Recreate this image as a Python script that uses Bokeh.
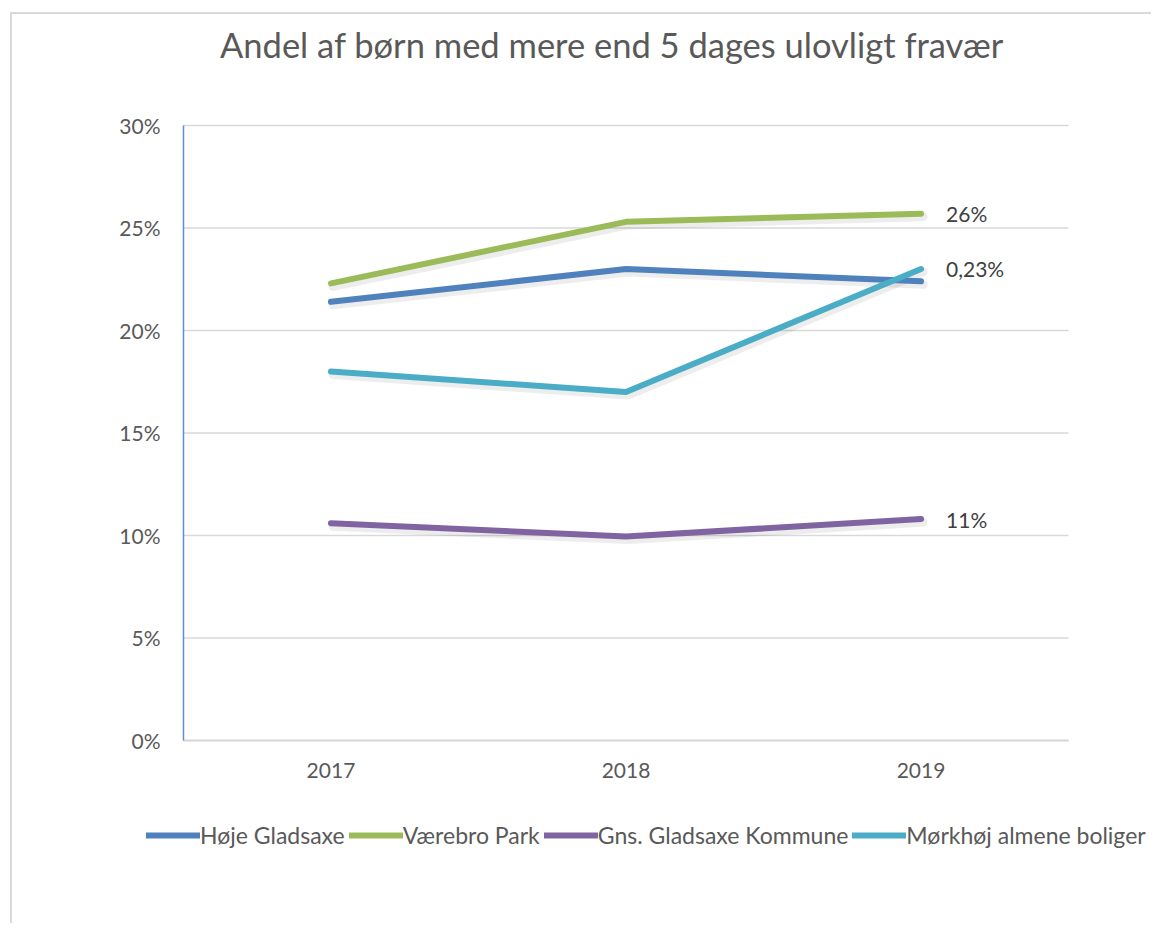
from bokeh.plotting import figure
from bokeh.models import (ColumnDataSource, FactorRange, Range1d, FixedTicker,
                          NumeralTickFormatter, Label, Legend, LegendItem)
from bokeh.transform import dodge
from bokeh.embed import file_html
from bokeh.resources import INLINE
from bokeh.core.properties import value

# ---------------- data ----------------
years = ["2017", "2018", "2019"]
hoeje_gladsaxe = [0.214, 0.230, 0.224]
vaerebro_park = [0.223, 0.253, 0.257]
gns_gladsaxe = [0.106, 0.0995, 0.108]
moerkhoej = [0.180, 0.170, 0.230]
series_names = ["Høje Gladsaxe", "Værebro Park", "Gns. Gladsaxe Kommune", "Mørkhøj almene boliger"]
series_values = [hoeje_gladsaxe, vaerebro_park, gns_gladsaxe, moerkhoej]
series_colors = ["#4F81BD", "#9BBB59", "#8064A2", "#4BACC6"]
y_ticks = [0, 0.05, 0.10, 0.15, 0.20, 0.25, 0.30]
# data labels at 2019 (as shown in the chart)
label_series = [vaerebro_park, moerkhoej, gns_gladsaxe]
label_texts = ["26%", "0,23%", "11%"]
title_text = "Andel af børn med mere end 5 dages ulovligt fravær"

FONT = "Lato"
TXT = "#595959"
GRID = "#d9d9d9"

# The frame covers the whole card so the title and legend (drawn inside it)
# are not clipped; the visible plot area is 0..30% and 2017..2019.
x_range = FactorRange(*years, range_padding=0.288, range_padding_units="absolute")
y_range = Range1d(-0.065854, 0.354146)

p = figure(x_range=x_range, y_range=y_range, width=1141, height=911,
           output_backend="svg", toolbar_location=None,
           min_border_left=86, min_border_top=0, min_border_right=0,
           min_border_bottom=50)
p.margin = (12, 0, 0, 10)
p.styles = {"border-top": "2px solid #d9d9d9", "border-left": "2px solid #d9d9d9"}
p.outline_line_color = None
p.background_fill_color = "white"
p.border_fill_color = "white"

# y axis placed at the left edge of the category area
p.yaxis.fixed_location = 0
p.yaxis.bounds = (y_ticks[0], y_ticks[-1])
p.yaxis.ticker = FixedTicker(ticks=y_ticks)
p.yaxis.formatter = NumeralTickFormatter(format="0%")
p.yaxis.axis_line_color = "#5b8fd0"
p.yaxis.axis_line_width = 1.5
p.yaxis.major_tick_line_color = None
p.yaxis.minor_tick_line_color = None
p.yaxis.major_label_standoff = 17
p.yaxis.major_label_text_font = FONT
p.yaxis.major_label_text_font_size = "21px"
p.yaxis.major_label_text_color = TXT

# x axis placed at 0%
p.xaxis.fixed_location = 0
p.xaxis.axis_line_color = None
p.xaxis.major_tick_line_color = None
p.xaxis.minor_tick_line_color = None
p.xaxis.major_label_standoff = 17
p.xaxis.major_label_text_font = FONT
p.xaxis.major_label_text_font_size = "21px"
p.xaxis.major_label_text_color = TXT

p.xgrid.grid_line_color = None
p.ygrid.grid_line_color = None

# horizontal gridlines over the category area only
n = len(y_ticks)
p.segment(x0=[0] * n, x1=[len(years)] * n, y0=y_ticks, y1=y_ticks,
          line_color=GRID, line_width=1.5)
p.segment(x0=[0], x1=[len(years)], y0=[0], y1=[0], line_color=GRID, line_width=2)

# shadows
for vals in series_values:
    src = ColumnDataSource(dict(x=years, y=[v - 0.0015 for v in vals]))
    p.line(x=dodge("x", 0.007, range=p.x_range), y="y", source=src,
           line_color="black", line_alpha=0.07, line_width=9,
           line_cap="round", line_join="round")

renderers = []
for name, vals, col in zip(series_names, series_values, series_colors):
    src = ColumnDataSource(dict(x=years, y=vals))
    r = p.line(x="x", y="y", source=src, line_color=col, line_width=6,
               line_cap="round", line_join="round")
    renderers.append(r)

lab_src = ColumnDataSource(dict(x=[years[-1]] * len(label_texts),
                                y=[s[-1] for s in label_series],
                                t=label_texts))
p.text(x="x", y="y", text="t", source=lab_src, x_offset=25,
       text_baseline="middle", text_align="left",
       text_font=value(FONT), text_font_size="21px", text_color="#404040")

# title
p.add_layout(Label(x=1.4525, y=0.3395, text=title_text, text_align="center",
                   text_baseline="middle", text_font=FONT,
                   text_font_size="34.5px", text_color=TXT))

# legend
legend = Legend(items=[LegendItem(label=nm, renderers=[r]) for nm, r in zip(series_names, renderers)],
                orientation="horizontal", location=(48, 26),
                glyph_width=54, glyph_height=22, label_standoff=0, spacing=4,
                padding=0, margin=0, border_line_color=None,
                background_fill_alpha=0, label_text_font=FONT,
                label_text_font_size="23px", label_text_color=TXT)
p.add_layout(legend)

open("out.html", "w").write(file_html(p, INLINE))
